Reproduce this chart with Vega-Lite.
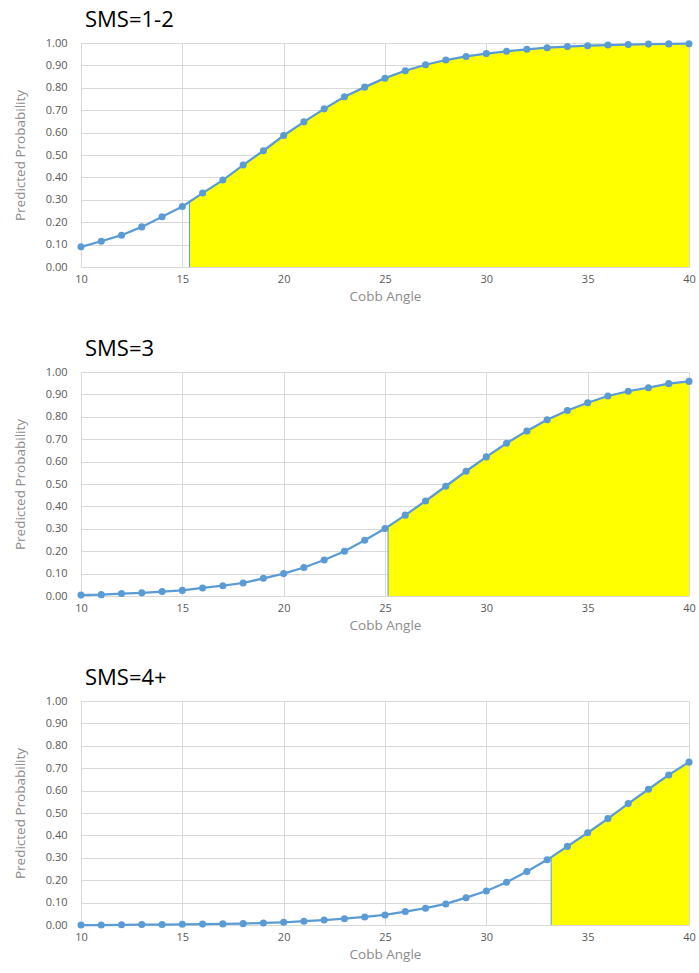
{
  "$schema": "https://vega.github.io/schema/vega-lite/v6.json",
  "padding": {"left": 13, "top": 9, "right": 8, "bottom": 5},
  "background": "white",
  "datasets": {
    "curve": [
      {"sms": "1-2", "angle": 10, "p": 0.09}, {"sms": "1-2", "angle": 11, "p": 0.115}, {"sms": "1-2", "angle": 12, "p": 0.142},
      {"sms": "1-2", "angle": 13, "p": 0.179}, {"sms": "1-2", "angle": 14, "p": 0.224}, {"sms": "1-2", "angle": 15, "p": 0.27},
      {"sms": "1-2", "angle": 16, "p": 0.33}, {"sms": "1-2", "angle": 17, "p": 0.388}, {"sms": "1-2", "angle": 18, "p": 0.455},
      {"sms": "1-2", "angle": 19, "p": 0.519}, {"sms": "1-2", "angle": 20, "p": 0.587}, {"sms": "1-2", "angle": 21, "p": 0.648},
      {"sms": "1-2", "angle": 22, "p": 0.706}, {"sms": "1-2", "angle": 23, "p": 0.76}, {"sms": "1-2", "angle": 24, "p": 0.803},
      {"sms": "1-2", "angle": 25, "p": 0.843}, {"sms": "1-2", "angle": 26, "p": 0.876}, {"sms": "1-2", "angle": 27, "p": 0.903},
      {"sms": "1-2", "angle": 28, "p": 0.924}, {"sms": "1-2", "angle": 29, "p": 0.94}, {"sms": "1-2", "angle": 30, "p": 0.953},
      {"sms": "1-2", "angle": 31, "p": 0.963}, {"sms": "1-2", "angle": 32, "p": 0.972}, {"sms": "1-2", "angle": 33, "p": 0.979},
      {"sms": "1-2", "angle": 34, "p": 0.984}, {"sms": "1-2", "angle": 35, "p": 0.988}, {"sms": "1-2", "angle": 36, "p": 0.991},
      {"sms": "1-2", "angle": 37, "p": 0.993}, {"sms": "1-2", "angle": 38, "p": 0.995}, {"sms": "1-2", "angle": 39, "p": 0.996},
      {"sms": "1-2", "angle": 40, "p": 0.997},
      {"sms": "3", "angle": 10, "p": 0.004}, {"sms": "3", "angle": 11, "p": 0.006}, {"sms": "3", "angle": 12, "p": 0.011},
      {"sms": "3", "angle": 13, "p": 0.014}, {"sms": "3", "angle": 14, "p": 0.02}, {"sms": "3", "angle": 15, "p": 0.025},
      {"sms": "3", "angle": 16, "p": 0.036}, {"sms": "3", "angle": 17, "p": 0.046}, {"sms": "3", "angle": 18, "p": 0.058},
      {"sms": "3", "angle": 19, "p": 0.079}, {"sms": "3", "angle": 20, "p": 0.1}, {"sms": "3", "angle": 21, "p": 0.127},
      {"sms": "3", "angle": 22, "p": 0.161}, {"sms": "3", "angle": 23, "p": 0.2}, {"sms": "3", "angle": 24, "p": 0.249},
      {"sms": "3", "angle": 25, "p": 0.301}, {"sms": "3", "angle": 26, "p": 0.361}, {"sms": "3", "angle": 27, "p": 0.424},
      {"sms": "3", "angle": 28, "p": 0.49}, {"sms": "3", "angle": 29, "p": 0.557}, {"sms": "3", "angle": 30, "p": 0.621},
      {"sms": "3", "angle": 31, "p": 0.682}, {"sms": "3", "angle": 32, "p": 0.737}, {"sms": "3", "angle": 33, "p": 0.787},
      {"sms": "3", "angle": 34, "p": 0.828}, {"sms": "3", "angle": 35, "p": 0.863}, {"sms": "3", "angle": 36, "p": 0.893},
      {"sms": "3", "angle": 37, "p": 0.914}, {"sms": "3", "angle": 38, "p": 0.93}, {"sms": "3", "angle": 39, "p": 0.948},
      {"sms": "3", "angle": 40, "p": 0.958},
      {"sms": "4+", "angle": 10, "p": 0.0}, {"sms": "4+", "angle": 11, "p": 0.0}, {"sms": "4+", "angle": 12, "p": 0.001},
      {"sms": "4+", "angle": 13, "p": 0.002}, {"sms": "4+", "angle": 14, "p": 0.002}, {"sms": "4+", "angle": 15, "p": 0.003},
      {"sms": "4+", "angle": 16, "p": 0.004}, {"sms": "4+", "angle": 17, "p": 0.005}, {"sms": "4+", "angle": 18, "p": 0.006},
      {"sms": "4+", "angle": 19, "p": 0.009}, {"sms": "4+", "angle": 20, "p": 0.012}, {"sms": "4+", "angle": 21, "p": 0.017},
      {"sms": "4+", "angle": 22, "p": 0.022}, {"sms": "4+", "angle": 23, "p": 0.028}, {"sms": "4+", "angle": 24, "p": 0.036},
      {"sms": "4+", "angle": 25, "p": 0.045}, {"sms": "4+", "angle": 26, "p": 0.06}, {"sms": "4+", "angle": 27, "p": 0.075},
      {"sms": "4+", "angle": 28, "p": 0.094}, {"sms": "4+", "angle": 29, "p": 0.122}, {"sms": "4+", "angle": 30, "p": 0.152},
      {"sms": "4+", "angle": 31, "p": 0.191}, {"sms": "4+", "angle": 32, "p": 0.239}, {"sms": "4+", "angle": 33, "p": 0.291},
      {"sms": "4+", "angle": 34, "p": 0.351}, {"sms": "4+", "angle": 35, "p": 0.412}, {"sms": "4+", "angle": 36, "p": 0.475},
      {"sms": "4+", "angle": 37, "p": 0.542}, {"sms": "4+", "angle": 38, "p": 0.606}, {"sms": "4+", "angle": 39, "p": 0.67},
      {"sms": "4+", "angle": 40, "p": 0.727}
    ],
    "shade": [
      {"sms": "1-2", "angle": 15.35, "p": 0.29},
      {"sms": "1-2", "angle": 16, "p": 0.33}, {"sms": "1-2", "angle": 17, "p": 0.388}, {"sms": "1-2", "angle": 18, "p": 0.455},
      {"sms": "1-2", "angle": 19, "p": 0.519}, {"sms": "1-2", "angle": 20, "p": 0.587}, {"sms": "1-2", "angle": 21, "p": 0.648},
      {"sms": "1-2", "angle": 22, "p": 0.706}, {"sms": "1-2", "angle": 23, "p": 0.76}, {"sms": "1-2", "angle": 24, "p": 0.803},
      {"sms": "1-2", "angle": 25, "p": 0.843}, {"sms": "1-2", "angle": 26, "p": 0.876}, {"sms": "1-2", "angle": 27, "p": 0.903},
      {"sms": "1-2", "angle": 28, "p": 0.924}, {"sms": "1-2", "angle": 29, "p": 0.94}, {"sms": "1-2", "angle": 30, "p": 0.953},
      {"sms": "1-2", "angle": 31, "p": 0.963}, {"sms": "1-2", "angle": 32, "p": 0.972}, {"sms": "1-2", "angle": 33, "p": 0.979},
      {"sms": "1-2", "angle": 34, "p": 0.984}, {"sms": "1-2", "angle": 35, "p": 0.988}, {"sms": "1-2", "angle": 36, "p": 0.991},
      {"sms": "1-2", "angle": 37, "p": 0.993}, {"sms": "1-2", "angle": 38, "p": 0.995}, {"sms": "1-2", "angle": 39, "p": 0.996},
      {"sms": "1-2", "angle": 40, "p": 0.997},
      {"sms": "3", "angle": 25.15, "p": 0.31},
      {"sms": "3", "angle": 26, "p": 0.361}, {"sms": "3", "angle": 27, "p": 0.424},
      {"sms": "3", "angle": 28, "p": 0.49}, {"sms": "3", "angle": 29, "p": 0.557}, {"sms": "3", "angle": 30, "p": 0.621},
      {"sms": "3", "angle": 31, "p": 0.682}, {"sms": "3", "angle": 32, "p": 0.737}, {"sms": "3", "angle": 33, "p": 0.787},
      {"sms": "3", "angle": 34, "p": 0.828}, {"sms": "3", "angle": 35, "p": 0.863}, {"sms": "3", "angle": 36, "p": 0.893},
      {"sms": "3", "angle": 37, "p": 0.914}, {"sms": "3", "angle": 38, "p": 0.93}, {"sms": "3", "angle": 39, "p": 0.948},
      {"sms": "3", "angle": 40, "p": 0.958},
      {"sms": "4+", "angle": 33.2, "p": 0.303},
      {"sms": "4+", "angle": 34, "p": 0.351}, {"sms": "4+", "angle": 35, "p": 0.412}, {"sms": "4+", "angle": 36, "p": 0.475},
      {"sms": "4+", "angle": 37, "p": 0.542}, {"sms": "4+", "angle": 38, "p": 0.606}, {"sms": "4+", "angle": 39, "p": 0.67},
      {"sms": "4+", "angle": 40, "p": 0.727}
    ],
    "cut": [
      {"sms": "1-2", "angle": 15.35, "p": 0.29},
      {"sms": "3", "angle": 25.15, "p": 0.31},
      {"sms": "4+", "angle": 33.2, "p": 0.303}
    ]
  },
  "config": {
    "font": "Open Sans",
    "view": {"stroke": null},
    "concat": {"spacing": 35},
    "axis": {
      "gridColor": "#d9d9d9", "gridWidth": 1, "domain": false, "ticks": false, "labelFlush": false,
      "labelColor": "#595959", "labelFontSize": 11, "labelFont": "Open Sans",
      "titleColor": "#8c8c8c", "titleFontSize": 13.5, "titleFontWeight": "normal", "titleFont": "Open Sans"
    },
    "axisX": {"labelPadding": 6, "titlePadding": 5},
    "axisY": {"labelPadding": 14, "titlePadding": 18},
    "title": {"anchor": "start", "fontSize": 22, "fontWeight": "normal", "color": "#000000", "font": "Open Sans", "offset": 5, "dx": 4, "frame": "group"}
  },
  "vconcat": [
    {
      "title": {"text": "SMS=1-2"},
      "width": 608, "height": 224,
      "encoding": {
        "x": {"field": "angle", "type": "quantitative", "scale": {"domain": [10, 40], "nice": false, "zero": false}, "axis": {"values": [10, 15, 20, 25, 30, 35, 40], "title": "Cobb Angle"}},
        "y": {"field": "p", "type": "quantitative", "scale": {"domain": [0, 1], "nice": false}, "axis": {"values": [0, 0.1, 0.2, 0.3, 0.4, 0.5, 0.6, 0.7, 0.8, 0.9, 1.0], "format": ".2f", "title": "Predicted Probability"}}
      },
      "layer": [
        {"data": {"name": "shade"}, "transform": [{"filter": "datum.sms === '1-2'"}], "mark": {"type": "area", "color": "#ffff00", "opacity": 1}},
        {"data": {"name": "cut"}, "transform": [{"filter": "datum.sms === '1-2'"}], "mark": {"type": "rule", "color": "#5b9bd5", "strokeWidth": 1}, "encoding": {"y2": {"datum": 0}}},
        {"data": {"name": "curve"}, "transform": [{"filter": "datum.sms === '1-2'"}], "mark": {"type": "line", "color": "#5b9bd5", "strokeWidth": 2.25, "point": {"filled": true, "size": 50, "color": "#5b9bd5"}}}
      ]
    },
    {
      "title": {"text": "SMS=3"},
      "width": 608, "height": 224,
      "encoding": {
        "x": {"field": "angle", "type": "quantitative", "scale": {"domain": [10, 40], "nice": false, "zero": false}, "axis": {"values": [10, 15, 20, 25, 30, 35, 40], "title": "Cobb Angle"}},
        "y": {"field": "p", "type": "quantitative", "scale": {"domain": [0, 1], "nice": false}, "axis": {"values": [0, 0.1, 0.2, 0.3, 0.4, 0.5, 0.6, 0.7, 0.8, 0.9, 1.0], "format": ".2f", "title": "Predicted Probability"}}
      },
      "layer": [
        {"data": {"name": "shade"}, "transform": [{"filter": "datum.sms === '3'"}], "mark": {"type": "area", "color": "#ffff00", "opacity": 1}},
        {"data": {"name": "cut"}, "transform": [{"filter": "datum.sms === '3'"}], "mark": {"type": "rule", "color": "#5b9bd5", "strokeWidth": 1}, "encoding": {"y2": {"datum": 0}}},
        {"data": {"name": "curve"}, "transform": [{"filter": "datum.sms === '3'"}], "mark": {"type": "line", "color": "#5b9bd5", "strokeWidth": 2.25, "point": {"filled": true, "size": 50, "color": "#5b9bd5"}}}
      ]
    },
    {
      "title": {"text": "SMS=4+"},
      "width": 608, "height": 224,
      "encoding": {
        "x": {"field": "angle", "type": "quantitative", "scale": {"domain": [10, 40], "nice": false, "zero": false}, "axis": {"values": [10, 15, 20, 25, 30, 35, 40], "title": "Cobb Angle"}},
        "y": {"field": "p", "type": "quantitative", "scale": {"domain": [0, 1], "nice": false}, "axis": {"values": [0, 0.1, 0.2, 0.3, 0.4, 0.5, 0.6, 0.7, 0.8, 0.9, 1.0], "format": ".2f", "title": "Predicted Probability"}}
      },
      "layer": [
        {"data": {"name": "shade"}, "transform": [{"filter": "datum.sms === '4+'"}], "mark": {"type": "area", "color": "#ffff00", "opacity": 1}},
        {"data": {"name": "cut"}, "transform": [{"filter": "datum.sms === '4+'"}], "mark": {"type": "rule", "color": "#5b9bd5", "strokeWidth": 1}, "encoding": {"y2": {"datum": 0}}},
        {"data": {"name": "curve"}, "transform": [{"filter": "datum.sms === '4+'"}], "mark": {"type": "line", "color": "#5b9bd5", "strokeWidth": 2.25, "point": {"filled": true, "size": 50, "color": "#5b9bd5"}}}
      ]
    }
  ]
}
